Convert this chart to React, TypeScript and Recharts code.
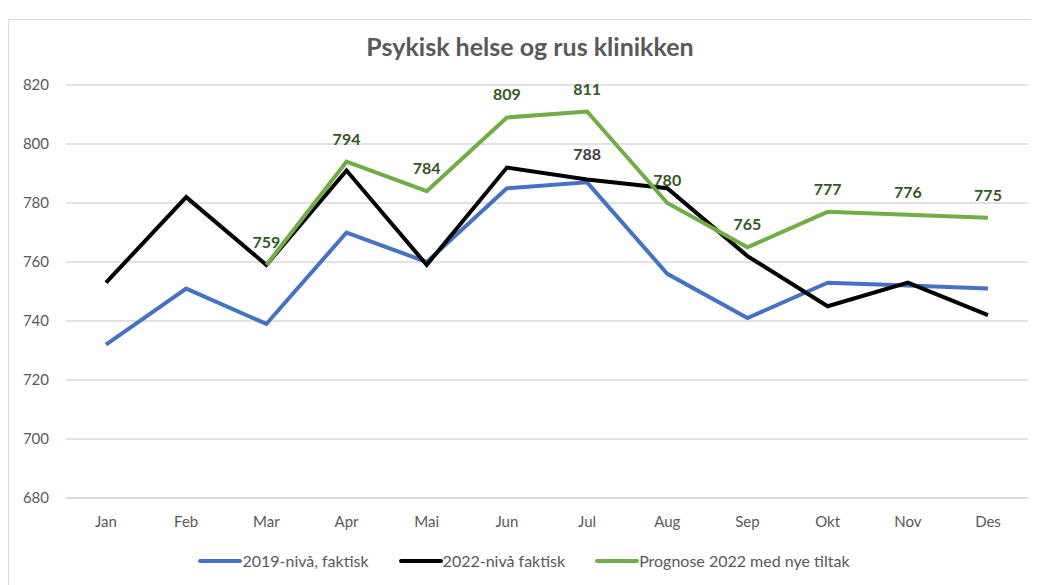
import React from 'react';
import {
  LineChart,
  Line,
  XAxis,
  YAxis,
  CartesianGrid,
  Legend,
  LabelList,
} from 'recharts';

const months = ['Jan', 'Feb', 'Mar', 'Apr', 'Mai', 'Jun', 'Jul', 'Aug', 'Sep', 'Okt', 'Nov', 'Des'];
const niva2019 = [732, 751, 739, 770, 760, 785, 787, 756, 741, 753, 752, 751];
const niva2022 = [753, 782, 759, 791, 759, 792, 788, 785, 762, 745, 753, 742];
const prognose2022 = [null, null, 759, 794, 784, 809, 811, 780, 765, 777, 776, 775];
const yTicks = [680, 700, 720, 740, 760, 780, 800, 820];

const data = months.map((m, i) => ({
  name: m,
  a: niva2019[i],
  b: niva2022[i],
  c: prognose2022[i],
}));

const FONT = 'Lato, "Open Sans", sans-serif';
const series = [
  { key: 'a', label: '2019-nivå, faktisk', color: '#4472C4' },
  { key: 'b', label: '2022-nivå faktisk', color: '#000000' },
  { key: 'c', label: 'Prognose 2022 med nye tiltak', color: '#70AD47' },
];

function LegendBox() {
  return (
    <div
      style={{
        display: 'flex',
        justifyContent: 'center',
        gap: 30,
        fontFamily: FONT,
        fontSize: 16,
        color: '#595959',
        height: 22,
        lineHeight: '22px',
      }}
    >
      {series.map((s) => (
        <div key={s.key} style={{ display: 'flex', alignItems: 'center' }}>
          <span
            style={{
              display: 'inline-block',
              width: 44,
              height: 4,
              borderRadius: 2,
              background: s.color,
            }}
          />
          <span>{s.label}</span>
        </div>
      ))}
    </div>
  );
}

// only Jul gets a label on the 2022 line
const julLabel = (props: any) => {
  const { x, y, value, index } = props;
  if (index !== 6) return null;
  return (
    <text x={x} y={y - 19} textAnchor="middle" fill="#404040" fontSize={16} fontWeight={700} fontFamily={FONT}>
      {value}
    </text>
  );
};

export default function App() {
  return (
    <div style={{ paddingTop: 11 }}>
      <div
        style={{
          position: 'relative',
          width: 1031,
          height: 566,
          borderTop: '1px solid #d9d9d9',
          borderLeft: '1px solid #d9d9d9',
          background: '#fff',
        }}
      >
        <div
          style={{
            position: 'absolute',
            top: 12,
            left: 221,
            width: 600,
            textAlign: 'center',
            fontFamily: FONT,
            fontWeight: 700,
            fontSize: 25,
            lineHeight: '28px',
            color: '#595959',
          }}
        >
          Psykisk helse og rus klinikken
        </div>
        <LineChart
          width={1030}
          height={560}
          data={data}
          margin={{ top: 65, right: 11, bottom: 30, left: 0 }}
        >
          <CartesianGrid vertical={false} stroke="#d9d9d9" strokeWidth={1.5} />
          <XAxis
            dataKey="name"
            height={30}
            padding={{ left: 40, right: 40 }}
            axisLine={{ stroke: '#d9d9d9', strokeWidth: 1.5 }}
            tickLine={false}
            tickSize={0}
            tickMargin={18}
            tick={{ fill: '#595959', fontSize: 15, fontFamily: FONT }}
            interval={0}
          />
          <YAxis
            width={57}
            domain={[680, 820]}
            ticks={yTicks}
            axisLine={false}
            tickLine={false}
            tickSize={0}
            tickMargin={17}
            tick={{ fill: '#595959', fontSize: 15, fontFamily: FONT }}
          />
          <Legend
            content={() => <LegendBox />}
            wrapperStyle={{ position: 'absolute', top: 530, left: 0, width: 1030, height: 22 }}
          />
          <Line
            dataKey="a"
            stroke="#4472C4"
            strokeWidth={4}
            dot={false}
            isAnimationActive={false}
          />
          <Line
            dataKey="b"
            stroke="#000000"
            strokeWidth={4}
            dot={false}
            isAnimationActive={false}
          >
            <LabelList dataKey="b" content={julLabel} />
          </Line>
          <Line
            dataKey="c"
            stroke="#70AD47"
            strokeWidth={4}
            dot={false}
            isAnimationActive={false}
          >
            <LabelList
              dataKey="c"
              position="top"
              offset={17}
              fill="#375623"
              fontSize={16}
              fontWeight={700}
              fontFamily={FONT}
            />
          </Line>
        </LineChart>
      </div>
    </div>
  );
}
